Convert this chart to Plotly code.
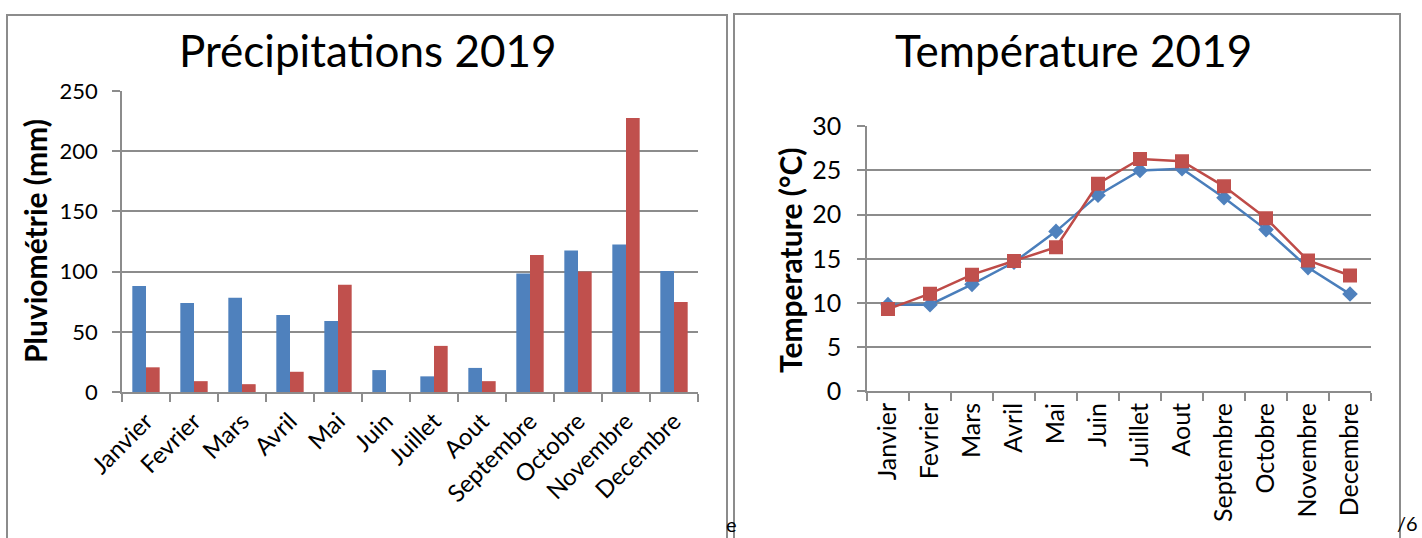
import plotly.graph_objects as go

months = ["Janvier", "Fevrier", "Mars", "Avril", "Mai", "Juin", "Juillet",
          "Aout", "Septembre", "Octobre", "Novembre", "Decembre"]
rain_blue = [88, 74, 78.3, 64, 59, 18.2, 13, 20, 98.5, 117.5, 122.5, 100.5]
rain_red = [20.5, 9, 6.5, 16.8, 89, 0, 38.3, 9, 113.8, 100, 227.5, 74.7]
temp_blue = [9.8, 9.8, 12.1, 14.6, 18.1, 22.2, 25.0, 25.2, 21.9, 18.3, 14.0, 11.0]
temp_red = [9.3, 11.05, 13.2, 14.75, 16.3, 23.5, 26.3, 26.05, 23.2, 19.6, 14.8, 13.1]

W, H = 1422, 538
FONT = "Lato, Carlito, Calibri, sans-serif"
BLUE = "#4F81BD"
RED = "#C0504D"
GRID = "#8c8c8c"


def px(x):
    return x / W


def py(y):
    return 1 - y / H


fig = go.Figure()

fig.add_trace(go.Bar(x=months, y=rain_blue, marker=dict(color=BLUE, line=dict(width=0)),
                     xaxis="x", yaxis="y", showlegend=False))
fig.add_trace(go.Bar(x=months, y=rain_red, marker=dict(color=RED, line=dict(width=0)),
                     xaxis="x", yaxis="y", showlegend=False))

fig.add_trace(go.Scatter(x=months, y=temp_blue, mode="lines+markers",
                         line=dict(color="#4A7EBB", width=2.5),
                         marker=dict(symbol="diamond", size=12, color=BLUE),
                         xaxis="x2", yaxis="y2", showlegend=False))
fig.add_trace(go.Scatter(x=months, y=temp_red, mode="lines+markers",
                         line=dict(color="#BE4B48", width=2.5),
                         marker=dict(symbol="square", size=14, color=RED),
                         xaxis="x2", yaxis="y2", showlegend=False))

common_x = dict(type="category", showgrid=False, showline=True, linecolor=GRID, linewidth=1.5,
                ticks="outside", tickson="boundaries", ticklen=8, tickwidth=1.5, tickcolor=GRID,
                zeroline=False, range=[-0.5, 11.5], automargin=False)
common_y = dict(showgrid=True, gridcolor=GRID, gridwidth=1.5, showline=True, linecolor=GRID,
                linewidth=1.5, ticks="outside", ticklen=8, tickwidth=1.5, tickcolor=GRID,
                zeroline=False, automargin=False)

fig.update_layout(
    template="none",
    width=W, height=H,
    margin=dict(l=0, r=0, t=0, b=0, pad=0),
    paper_bgcolor="white", plot_bgcolor="white",
    font=dict(family=FONT, color="black"),
    barmode="group", bargap=0.43, bargroupgap=0,
    xaxis=dict(domain=[px(122), px(698)], anchor="y", tickangle=-45,
               tickfont=dict(size=24, family=FONT), ticklabelstandoff=4, **common_x),
    yaxis=dict(domain=[py(392), py(91)], anchor="x", range=[0, 250], dtick=50,
               tickfont=dict(size=22, family=FONT), ticklabelstandoff=10, **common_y),
    xaxis2=dict(domain=[px(867), px(1371)], anchor="y2", tickangle=-90,
                tickfont=dict(size=25, family=FONT), **common_x),
    yaxis2=dict(domain=[py(391.2), py(126.3)], anchor="x2", range=[0, 30], dtick=5,
                tickfont=dict(size=25, family=FONT), ticklabelstandoff=11, **common_y),
)

annotations = [
    dict(text="Précipitations 2019", x=px(368), y=py(50), font=dict(size=44)),
    dict(text="Température 2019", x=px(1073), y=py(50), font=dict(size=44)),
    dict(text="<b>Pluviométrie (mm)</b>", x=px(35), y=py(241), textangle=-90, font=dict(size=30)),
    dict(text="<b>Temperature (°C)</b>", x=px(790), y=py(260), textangle=-90, font=dict(size=30)),
    dict(text="e", x=px(731), y=py(524), font=dict(size=20)),
    dict(text="/6", x=px(1419), y=py(523), xanchor="right", font=dict(size=20)),
]
for a in annotations:
    a.setdefault("xanchor", "center")
    a.update(xref="paper", yref="paper", yanchor="middle", showarrow=False, borderpad=0)
    a["font"]["family"] = FONT
    a["font"]["color"] = "black"
fig.update_layout(annotations=annotations)

fig.update_layout(shapes=[
    dict(type="rect", xref="paper", yref="paper", x0=px(7), x1=px(727), y0=-0.2, y1=py(15),
         line=dict(color="#8c8c8c", width=2), fillcolor="rgba(0,0,0,0)", layer="below"),
    dict(type="rect", xref="paper", yref="paper", x0=px(734), x1=px(1400), y0=-0.2, y1=py(14),
         line=dict(color="#8c8c8c", width=2), fillcolor="rgba(0,0,0,0)", layer="below"),
])

fig.write_html("out.html")
